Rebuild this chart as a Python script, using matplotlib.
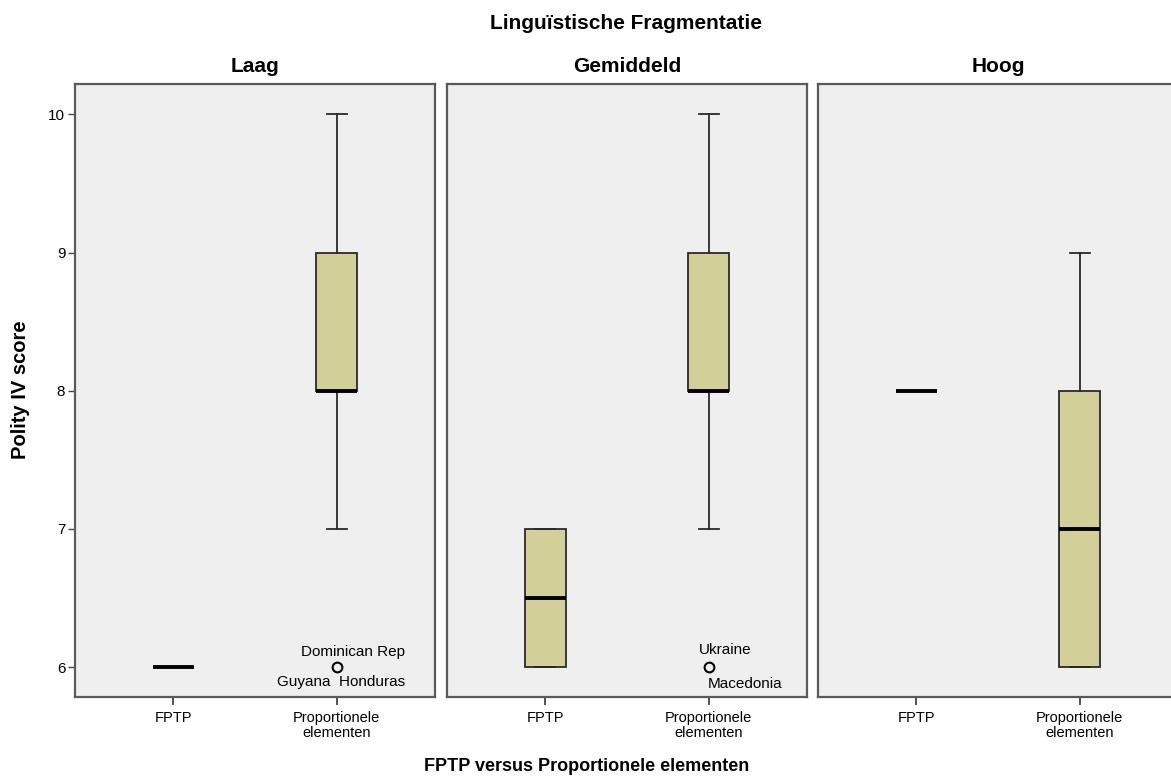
import matplotlib
matplotlib.use("Agg")
import matplotlib.pyplot as plt

plt.rcParams['font.family'] = ['Liberation Sans', 'DejaVu Sans']

panels = ["Laag", "Gemiddeld", "Hoog"]
categories = ["FPTP", "Proportionele\nelementen"]

# per panel, per category: [whislo, q1, med, q3, whishi]
stats_laag = [[6, 6, 6, 6, 6], [7, 8, 8, 9, 10]]
stats_gem = [[6, 6, 6.5, 7, 7], [7, 8, 8, 9, 10]]
stats_hoog = [[8, 8, 8, 8, 8], [6, 6, 7, 8, 9]]
all_stats = [stats_laag, stats_gem, stats_hoog]

fliers_laag = [[], [6]]
fliers_gem = [[], [6]]
fliers_hoog = [[], []]
all_fliers = [fliers_laag, fliers_gem, fliers_hoog]

yticks = [6, 7, 8, 9, 10]

W, H = 1171, 776
fig = plt.figure(figsize=(W / 100, H / 100), dpi=100)

lefts = [75, 447, 818]
pw = 360
top, bot = 84, 697

box_color = "#d3cf98"
bg = "#efefef"
edge = "#2a2a2a"

axes = []
for i, (name, st, fl) in enumerate(zip(panels, all_stats, all_fliers)):
    ax = fig.add_axes([lefts[i] / W, (H - bot) / H, pw / W, (bot - top) / H])
    ax.set_facecolor(bg)
    bstats = []
    for j in range(2):
        lo, q1, med, q3, hi = st[j]
        bstats.append(dict(whislo=lo, q1=q1, med=med, q3=q3, whishi=hi, fliers=fl[j], label=categories[j]))
    ax.bxp(bstats, positions=[0, 1], widths=0.25, patch_artist=True, showfliers=True,
           boxprops=dict(facecolor=box_color, edgecolor=edge, linewidth=1.3),
           medianprops=dict(color="black", linewidth=2.8, solid_capstyle="butt"),
           whiskerprops=dict(color=edge, linewidth=1.3),
           capprops=dict(color=edge, linewidth=1.3),
           capwidths=0.125,
           flierprops=dict(marker="o", markerfacecolor="none", markeredgecolor="black",
                           markersize=7, markeredgewidth=1.5))
    ax.set_xlim(-0.6, 1.6)
    ax.set_ylim(5.783, 10.22)
    ax.set_xticks([0, 1])
    ax.set_xticklabels(categories, fontsize=10.5, linespacing=1.12)
    if i == 0:
        ax.set_yticks(yticks)
        ax.set_yticklabels([str(t) for t in yticks], fontsize=11)
        ax.tick_params(axis='y', length=5, width=1, color="#444444", pad=2)
    else:
        ax.set_yticks([])
    ax.tick_params(axis='x', length=6, width=1.3, color="#444444", pad=4)
    for s in ax.spines.values():
        s.set_color("#5a5a5a")
        s.set_linewidth(1.6)
    ax.set_title(name, fontsize=15, fontweight="bold", pad=9)
    axes.append(ax)

# outlier labels
ax = axes[0]
ax.annotate("Dominican Rep", xy=(1, 6), xytext=(11.5, 11), textcoords="offset points",
            ha="center", va="center", fontsize=11)
ax.annotate("Guyana  Honduras", xy=(1, 6), xytext=(3, -11), textcoords="offset points",
            ha="center", va="center", fontsize=11)
ax = axes[1]
ax.annotate("Ukraine", xy=(1, 6), xytext=(12, 12), textcoords="offset points",
            ha="center", va="center", fontsize=11)
ax.annotate("Macedonia", xy=(1, 6), xytext=(26, -12), textcoords="offset points",
            ha="center", va="center", fontsize=11)

fig.text(626 / W, 1 - 29 / H, "Linguïstische Fragmentatie", ha="center", va="baseline",
         fontsize=15, fontweight="bold")
fig.text(587 / W, 1 - 771 / H, "FPTP versus Proportionele elementen", ha="center", va="baseline",
         fontsize=13, fontweight="bold")
fig.text(21 / W, 1 - 390 / H, "Polity IV score", ha="center", va="center", rotation=90,
         fontsize=14.5, fontweight="bold")

fig.savefig("out.png", dpi=100)
